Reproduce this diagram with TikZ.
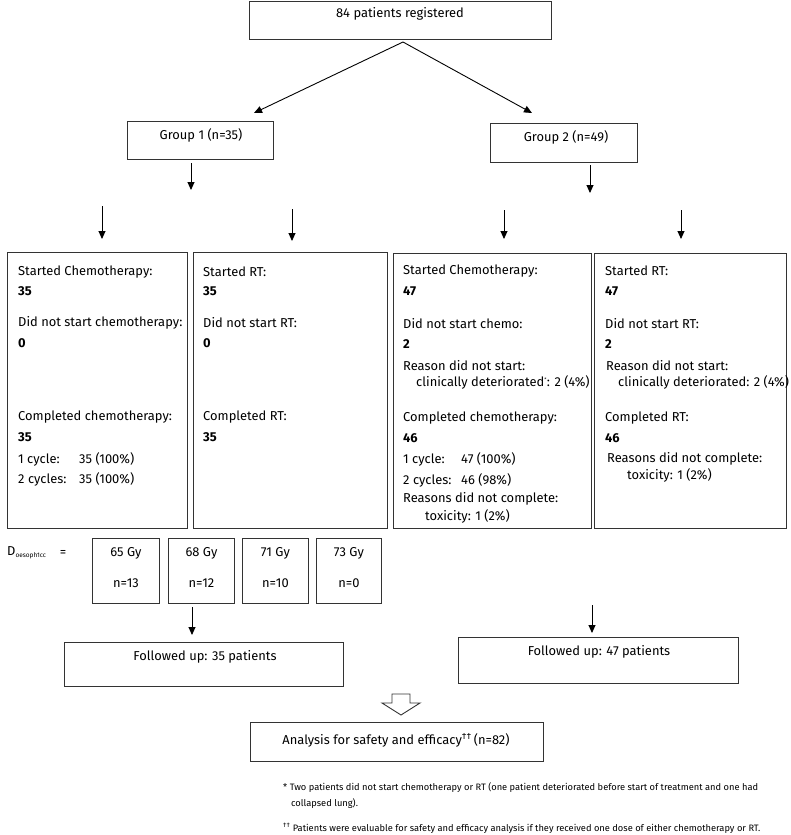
\documentclass[tikz,border=0pt]{standalone}
\usepackage{fontspec}
\setmainfont{Fira Sans}
\usetikzlibrary{arrows.meta}

\newcommand\bodyfont{\fontsize{12.9}{14}\selectfont}
\newcommand\notefont{\fontsize{9.3}{11}\selectfont}
\newcommand\cyc[2][58pt]{\makebox[#1][l]{#2}}

\tikzset{
  box/.style={draw=black!80, line width=.9pt, anchor=north west, inner sep=0pt},
  txt/.style={anchor=west, inner sep=0pt, font=\bodyfont},
  ctxt/.style={inner sep=0pt, font=\bodyfont},
  note/.style={anchor=west, inner sep=0pt, font=\notefont},
  >={Triangle[length=8pt,width=7pt]}
}

\begin{document}
\begin{tikzpicture}[x=1pt,y=-1pt]
\useasboundingbox (0,0) rectangle (790,835);

% boxes
\foreach \n/\xa/\ya/\xb/\yb in {reg/249/1/551/39, g1/127/121/273/159, g2/490/123/637/162,
    b1/7/252/187/528, b2/193/252/387/528, b3/393/253/591/528, b4/594/253/786/528,
    d1/92/538/159/603, d2/168/538/234/603, d3/242/538/308/603, d4/316/538/381/603,
    f1/64/642/343/686, f2/458/637/738/683, an/250/722/543/761}
  \node[box, minimum width=(\xb-\xa)*1pt, minimum height=(\yb-\ya)*1pt] (\n) at (\xa,\ya) {};

% box titles
\node[ctxt] (regt) at (400,14) {84 patients registered};
\node[ctxt] (g1t) at (201,135) {Group 1 (n=35)};
\node[ctxt] (g2t) at (566,137) {Group 2 (n=49)};
\node[ctxt] (f1t) at (205,657) {Followed up: 35 patients};
\node[ctxt] (f2t) at (599,652) {Followed up: 47 patients};
\node[ctxt] (ant) at (396,740) {Analysis for safety and efficacy\textsuperscript{\textdagger\textdagger}\,(n=82)};

% group 1, chemotherapy
\foreach \x/\y/\t [count=\i] in {18/272/Started Chemotherapy:, 18/291/\textbf{35},
    18/323/Did not start chemotherapy:, 18/343/\textbf{0},
    18/417/Completed chemotherapy:, 18/437/\textbf{35},
    18/459/\cyc[61pt]{1 cycle:}35 (100\%), 18/479/\cyc[61pt]{2 cycles:}35 (100\%)}
  \node[txt] (c1-\i) at (\x,\y) {\t};

% group 1, RT
\foreach \x/\y/\t [count=\i] in {203/272/Started RT:, 203/291/\textbf{35},
    203/323/Did not start RT:, 203/343/\textbf{0},
    203/417/Completed RT:, 203/437/\textbf{35}}
  \node[txt] (r1-\i) at (\x,\y) {\t};

% group 2, chemotherapy
\foreach \x/\y/\t [count=\i] in {403/271/Started Chemotherapy:, 403/291/\textbf{47},
    403/324/Did not start chemo:, 403/344/\textbf{2},
    403/366/Reason did not start:, 416/382/clinically deteriorated\textsuperscript{\tiny*}: 2 (4\%),
    403/418/Completed chemotherapy:, 403/438/\textbf{46},
    403/459/\cyc{1 cycle:}47 (100\%), 403/480/\cyc{2 cycles:}46 (98\%),
    403/499/Reasons did not complete:, 425/516/toxicity: 1 (2\%)}
  \node[txt] (c2-\i) at (\x,\y) {\t};

% group 2, RT
\foreach \x/\y/\t [count=\i] in {605/271/Started RT:, 605/291/\textbf{47},
    605/324/Did not start RT:, 605/344/\textbf{2},
    606/366/Reason did not start:, 618/382/clinically deteriorated: 2 (4\%),
    605/418/Completed RT:, 605/438/\textbf{46},
    607/459/Reasons did not complete:, 627/475/toxicity: 1 (2\%)}
  \node[txt] (r2-\i) at (\x,\y) {\t};

% dose levels
\node[txt] (dose) at (7,553) {D\textsubscript{\fontsize{6.5}{7}\selectfont oesoph1cc}};
\node[ctxt] (eq) at (63,553) {=};
\foreach \n/\g/\k in {d1/65/13, d2/68/12, d3/71/10, d4/73/0} {
  \node[ctxt] (\n-gy) at (\n.north |- 0,553) {\g\ Gy};
  \node[ctxt] (\n-k) at (\n.north |- 0,583) {n=\k};
}

% arrows
\coordinate (split) at (403,42);
\coordinate (g1tip) at (254,113);
\coordinate (g2tip) at (532,113);
\draw[->, line width=.9pt] (split) -- (g1tip);
\draw[->, line width=.9pt] (split) -- (g2tip);
\foreach \n/\x/\ya/\yb in {g1/191/163/190, g2/590/165/193, a1/102/206/239, a2/292/209/241,
    a3/504/210/239, a4/681/210/239, d2/192/607/635, f2/592/605/633} {
  \coordinate (\n-s) at (\x,\ya);
  \coordinate (\n-e) at (\x,\yb);
  \draw[->, line width=.9pt] (\n-s) -- (\n-e);
}

% hollow arrow to analysis
\draw[black!80, line width=.9pt] (392,694) -- (410,694) -- (410,703) -- (420,703)
  -- (401,715) -- (382,703) -- (392,703) -- cycle;

% footnotes
\node[note] (n1) at (283,788) {* Two patients did not start chemotherapy or RT (one patient deteriorated before start of treatment and one had};
\node[note] (n2) at (291,804) {collapsed lung).};
\node[note] (n3) at (283,828) {\textsuperscript{\textdagger\textdagger} Patients were evaluable for safety and efficacy analysis if they received one dose of either chemotherapy or RT.};
\end{tikzpicture}
\end{document}
